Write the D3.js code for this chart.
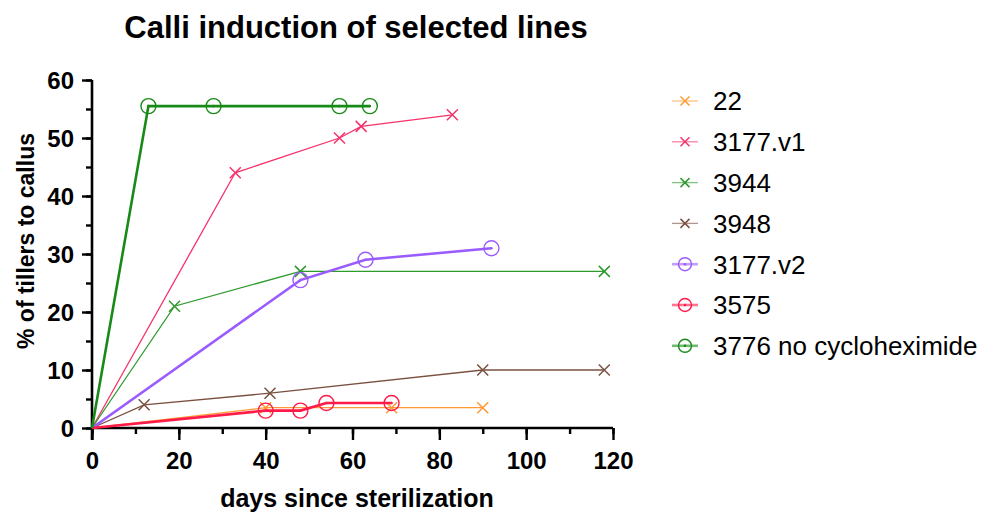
<!DOCTYPE html>
<html>
<head>
<meta charset="utf-8">
<script src="https://cdn.jsdelivr.net/npm/d3@7"></script>
<style>
  body { margin: 0; background: #fff; }
  text { font-family: "Liberation Sans", Arial, sans-serif; }
</style>
</head>
<body>
<script>
// series data: [day, percent]
var s22 = [[0, 0], [40, 3.5], [69, 3.5], [90, 3.5]]
var s3177v1 = [[0, 0], [33, 44], [57, 50], [62, 52], [83, 54]]
var s3944 = [[0, 0], [19, 21], [48, 27], [118, 27]]
var s3948 = [[0, 0], [12, 4], [41, 6], [90, 10], [118, 10]]
var s3177v2 = [[0, 0], [48, 25.5], [63, 29], [92, 31]]
var s3575 = [[0, 0], [40, 3], [48, 3], [54, 4.3], [69, 4.3]]
var s3776 = [[0, 0], [13, 55.5], [28, 55.5], [57, 55.5], [64, 55.5]]

var seriesNames = ["22", "3177.v1", "3944", "3948", "3177.v2", "3575", "3776 no cycloheximide"]
var seriesValues = [s22, s3177v1, s3944, s3948, s3177v2, s3575, s3776]
var xTicks = [0, 20, 40, 60, 80, 100, 120]
var yTicks = [0, 10, 20, 30, 40, 50, 60]

var styles = [
  {color: "#ff9933", width: 1.3, marker: "x"},
  {color: "#f5336b", width: 1.3, marker: "x"},
  {color: "#2e9a2e", width: 1.3, marker: "x"},
  {color: "#7a5040", width: 1.3, marker: "x"},
  {color: "#9a5cff", width: 2.6, marker: "o"},
  {color: "#ff1a4a", width: 2.6, marker: "o"},
  {color: "#188a18", width: 2.6, marker: "o"}
]

var width = 988, height = 515
var margins = {left: 92, right: 375, top: 80, bottom: 87}

var svg = d3.select("body").append("svg")
  .attr("width", width)
  .attr("height", height)

var scaleX = d3.scaleLinear().domain([0, 120]).range([margins.left, width - margins.right])
var scaleY = d3.scaleLinear().domain([0, 60]).range([height - margins.bottom, margins.top])

// title
svg.append("text")
  .attr("x", 356).attr("y", 38)
  .attr("text-anchor", "middle")
  .style("font-size", "31px").style("font-weight", "bold")
  .text("Calli induction of selected lines")

// axes
var axisX = svg.append("g").attr("transform", "translate(0," + scaleY(0) + ")")
axisX.call(d3.axisBottom(scaleX).tickValues(d3.range(0, 121, 10)).tickSize(6).tickFormat(""))
axisX.append("g").call(d3.axisBottom(scaleX).tickValues(xTicks).tickSize(12)
  .tickFormat(d3.format("d")))
axisX.selectAll("text").attr("y", 24).attr("dy", "0.71em")
  .style("font-size", "24px").style("font-weight", "bold").attr("fill", "#000")

var axisY = svg.append("g").attr("transform", "translate(" + scaleX(0) + ",0)")
axisY.call(d3.axisLeft(scaleY).tickValues(d3.range(0, 61, 5)).tickSize(6).tickFormat(""))
axisY.append("g").call(d3.axisLeft(scaleY).tickValues(yTicks).tickSize(10)
  .tickFormat(d3.format("d")))
axisY.selectAll("text").attr("x", -18).attr("dy", "0.36em")
  .style("font-size", "24px").style("font-weight", "bold").attr("fill", "#000")

svg.selectAll(".domain").attr("stroke", "#000").attr("stroke-width", 2.6)
  .attr("d", null)
axisX.select(".domain").attr("d", "M" + scaleX(0) + ",0H" + scaleX(120))
axisY.select(".domain").attr("d", "M0," + (scaleY(0) + 12) + "V" + scaleY(60))
svg.selectAll(".tick line").attr("stroke", "#000").attr("stroke-width", 2.4)

// axis titles
svg.append("text")
  .attr("x", 357).attr("y", 507)
  .attr("text-anchor", "middle")
  .style("font-size", "25px").style("font-weight", "bold")
  .text("days since sterilization")

svg.append("text")
  .attr("transform", "translate(34,241) rotate(-90)")
  .attr("text-anchor", "middle")
  .style("font-size", "23px").style("font-weight", "bold")
  .text("% of tillers to callus")

// lines and markers
var line = d3.line().x(d => scaleX(d[0])).y(d => scaleY(d[1]))

function drawMarker(g, type, color, cx, cy, r) {
  if (type === "x") {
    g.append("path")
      .attr("d", "M" + (cx - r) + "," + (cy - r) + "L" + (cx + r) + "," + (cy + r) +
        "M" + (cx - r) + "," + (cy + r) + "L" + (cx + r) + "," + (cy - r))
      .attr("stroke", color).attr("stroke-width", 1.5).attr("fill", "none")
  } else {
    g.append("circle").attr("cx", cx).attr("cy", cy).attr("r", r + 2)
      .attr("stroke", color).attr("stroke-width", 1.4).attr("fill", "none")
    g.append("circle").attr("cx", cx).attr("cy", cy).attr("r", 1.3)
      .attr("fill", color)
  }
}

var plot = svg.append("g")
seriesValues.forEach(function(vals, i) {
  var st = styles[i]
  var g = plot.append("g")
  g.append("path").datum(vals)
    .attr("d", line)
    .attr("fill", "none")
    .attr("stroke", st.color)
    .attr("stroke-width", st.width)
  vals.slice(1).forEach(function(d) {
    drawMarker(g, st.marker, st.color, scaleX(d[0]), scaleY(d[1]), 5.5)
  })
})

// legend
var legend = svg.append("g").attr("transform", "translate(672,101)")
seriesNames.forEach(function(name, i) {
  var st = styles[i]
  var g = legend.append("g").attr("transform", "translate(0," + (i * 40.8) + ")")
  g.append("line").attr("x1", 0).attr("x2", 26).attr("y1", 0).attr("y2", 0)
    .attr("stroke", st.color).attr("stroke-width", st.width)
    .attr("opacity", 0.6)
  drawMarker(g, st.marker, st.color, 13, 0, 4.5)
  g.append("text").attr("x", 41).attr("y", 0).attr("dy", "0.36em")
    .style("font-size", "26px")
    .text(name)
})
</script>
</body>
</html>
